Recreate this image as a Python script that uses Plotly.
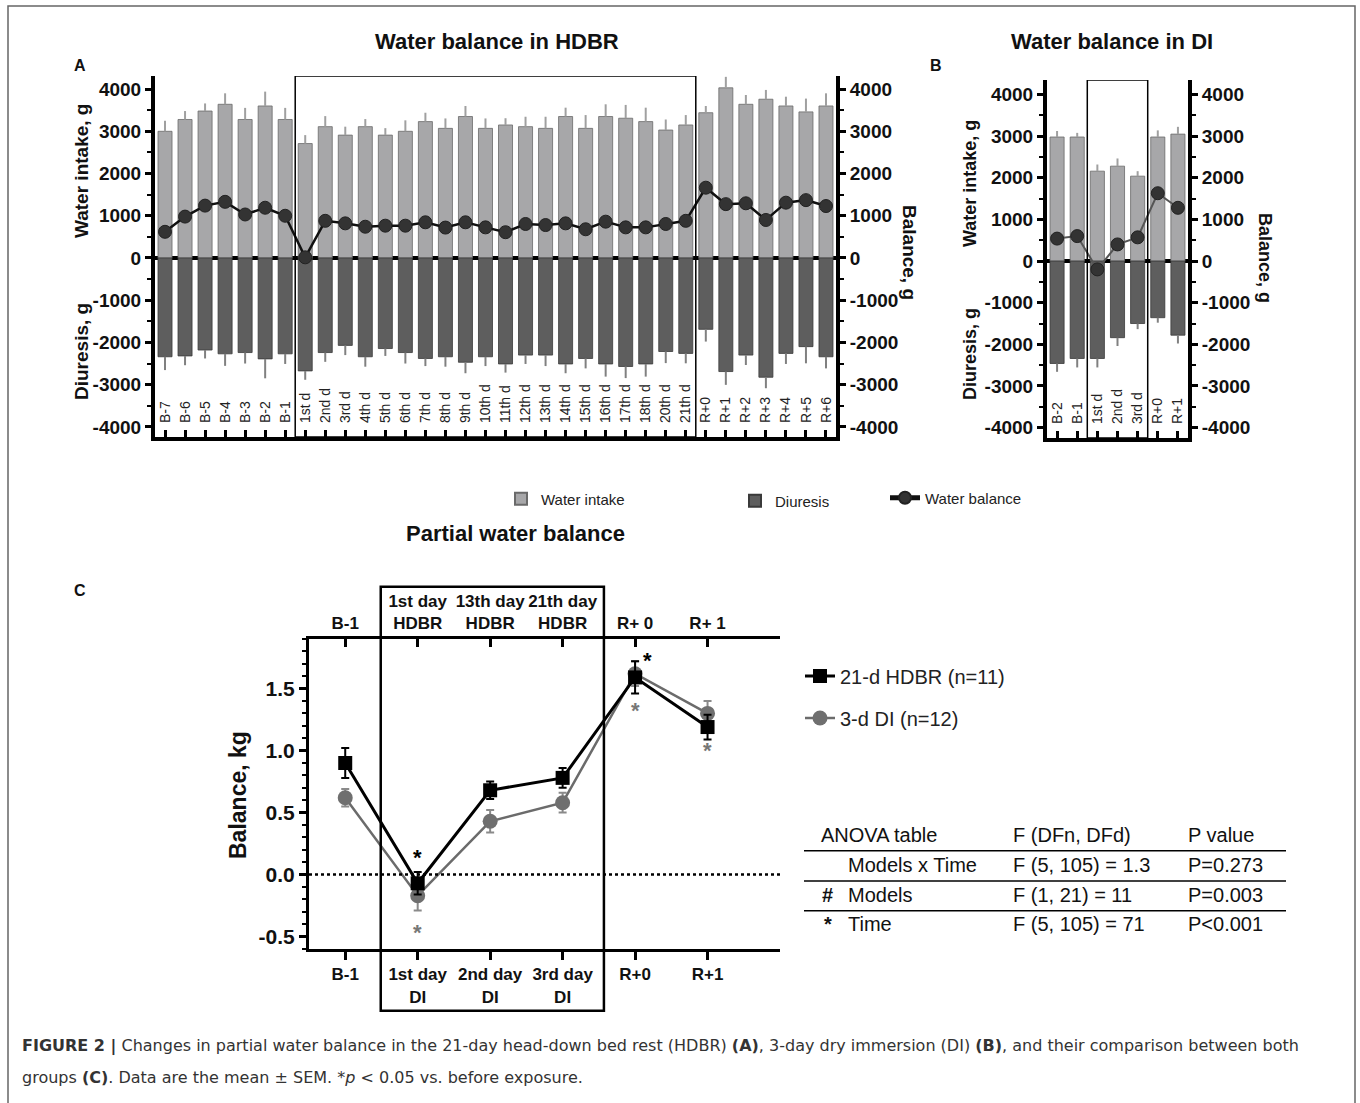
import plotly.graph_objects as go

W, H = 1360, 1103
def X(px): return px / W
def Y(py): return 1 - py / H

# ---------------- DATA ----------------
cats_A = ["B-7", "B-6", "B-5", "B-4", "B-3", "B-2", "B-1",
          "1st d", "2nd d", "3rd d", "4th d", "5th d", "6th d", "7th d", "8th d", "9th d",
          "10th d", "11th d", "12th d", "13th d", "14th d", "15th d", "16th d", "17th d",
          "18th d", "20th d", "21th d",
          "R+0", "R+1", "R+2", "R+3", "R+4", "R+5", "R+6"]
intake_A = [3000, 3280, 3480, 3640, 3280, 3600, 3280,
            2710, 3110, 2910, 3110, 2910, 3000, 3230, 3070, 3350, 3070, 3150, 3110, 3070,
            3350, 3070, 3350, 3310, 3230, 3030, 3150,
            3440, 4030, 3640, 3760, 3600, 3460, 3600]
intake_A_sem = [250, 200, 180, 260, 275, 340, 275,
                200, 250, 200, 180, 165, 260, 210, 235, 250, 235, 160, 235, 275,
                210, 315, 290, 315, 330, 250, 235,
                160, 260, 220, 220, 220, 315, 300]
diuresis_A = [-2340, -2320, -2180, -2270, -2240, -2390, -2270,
              -2675, -2240, -2070, -2340, -2145, -2240, -2380, -2340, -2470, -2340, -2510,
              -2300, -2300, -2510, -2380, -2510, -2570, -2510, -2215, -2260,
              -1690, -2690, -2300, -2825, -2260, -2100, -2340]
diuresis_A_sem = [315, 220, 200, 285, 260, 460, 240,
                  210, 220, 230, 235, 175, 260, 180, 235, 260, 220, 205, 210, 260,
                  220, 235, 300, 275, 300, 275, 235,
                  290, 315, 235, 260, 250, 395, 275]
balance_A = [620, 980, 1240, 1330, 1030, 1190, 1000,
             15, 880, 820, 740, 765, 765, 845, 720, 845, 725, 610, 805, 780,
             820, 680, 860, 725, 725, 805, 880,
             1665, 1275, 1295, 900, 1310, 1370, 1230]

cats_B = ["B-2", "B-1", "1st d", "2nd d", "3rd d", "R+0", "R+1"]
intake_B = [2980, 2980, 2160, 2280, 2040, 2980, 3050]
intake_B_sem = [145, 100, 160, 185, 120, 160, 175]
diuresis_B = [-2460, -2340, -2340, -1840, -1500, -1360, -1780]
diuresis_B_sem = [200, 215, 215, 200, 135, 120, 200]
balance_B = [540, 600, -200, 400, 570, 1630, 1280]

ticks_g = [-4000, -3000, -2000, -1000, 0, 1000, 2000, 3000, 4000]
ticks_g_text = ["-4000", "-3000", "-2000", "-1000", "0", "1000", "2000", "3000", "4000"]

cats_C = ["B-1", "1st day<br>DI", "2nd day<br>DI", "3rd day<br>DI", "R+0", "R+1"]
top_C = ["B-1", "1st day<br>HDBR", "13th day<br>HDBR", "21th day<br>HDBR", "R+ 0", "R+ 1"]
hdbr_C = [0.90, -0.07, 0.68, 0.78, 1.59, 1.19]
hdbr_C_sem = [0.12, 0.09, 0.07, 0.08, 0.13, 0.10]
di_C = [0.62, -0.17, 0.43, 0.58, 1.62, 1.30]
di_C_sem = [0.07, 0.12, 0.09, 0.08, 0.10, 0.10]
ticks_kg = [-0.5, 0.0, 0.5, 1.0, 1.5]
ticks_kg_text = ["-0.5", "0.0", "0.5", "1.0", "1.5"]

names_A = ["Water intake", "Diuresis", "Water balance"]
names_C = ["21-d HDBR (n=11)", "3-d DI (n=12)"]

anova_header = ["ANOVA table", "F (DFn, DFd)", "P value"]
anova_marks = ["", "#", "*"]
anova_effect = ["Models x Time", "Models", "Time"]
anova_F = ["F (5, 105) = 1.3", "F (1, 21) = 11", "F (5, 105) = 71"]
anova_P = ["P=0.273", "P=0.003", "P<0.001"]

caption_1 = ("<b>FIGURE 2 |</b> Changes in partial water balance in the 21-day head-down bed rest (HDBR) "
             "<b>(A)</b>, 3-day dry immersion (DI) <b>(B)</b>, and their comparison between both")
caption_2 = "groups <b>(C)</b>. Data are the mean ± SEM. *<i>p</i> &lt; 0.05 vs. before exposure."

# ---------------- STYLE ----------------
FONT = "Liberation Sans, Arial, sans-serif"
NARROW = "Liberation Sans Narrow, Liberation Sans, Arial, sans-serif"
INTAKE_C = "#a7a7a9"
DIUR_C = "#5e5e5e"
RNG_A = [-4240, 4310]
RNG_B = [-4250, 4350]
DOM_AX = [X(155), X(836)]
DOM_AY = [Y(437), Y(76)]
DOM_BX = [X(1047), X(1188)]
DOM_BY = [Y(438), Y(80)]

fig = go.Figure()

# ---- Panel A ----
fig.add_trace(go.Bar(x=cats_A, y=intake_A, name=names_A[0], xaxis="x", yaxis="y",
                     marker=dict(color=INTAKE_C, line=dict(color="#6a6a6a", width=0.8)), width=0.7,
                     error_y=dict(type="data", symmetric=False, array=intake_A_sem,
                                  arrayminus=[0] * len(intake_A), color="#a0a0a0", thickness=2, width=0),
                     legend="legend"))
fig.add_trace(go.Bar(x=cats_A, y=diuresis_A, name=names_A[1], xaxis="x", yaxis="y",
                     marker=dict(color=DIUR_C, line=dict(color="#3a3a3a", width=0.8)), width=0.7,
                     error_y=dict(type="data", symmetric=False, array=[0] * len(diuresis_A),
                                  arrayminus=diuresis_A_sem, color="#808080", thickness=2, width=0),
                     legend="legend2"))
fig.add_trace(go.Scatter(x=cats_A, y=balance_A, name=names_A[2], xaxis="x", yaxis="y2",
                         mode="lines+markers", line=dict(color="#111", width=2.5),
                         marker=dict(symbol="circle", size=13, color="#333", line=dict(color="#222", width=1)),
                         legend="legend3"))
# helper subplot carrying the category labels of A (inside, rotated)
fig.add_trace(go.Scatter(x=cats_A, y=balance_A, xaxis="x5", yaxis="y7", mode="markers",
                         marker=dict(opacity=0), showlegend=False, hoverinfo="skip"))

# ---- Panel B ----
fig.add_trace(go.Bar(x=cats_B, y=intake_B, xaxis="x2", yaxis="y3", showlegend=False,
                     marker=dict(color=INTAKE_C, line=dict(color="#6a6a6a", width=0.8)), width=0.7,
                     error_y=dict(type="data", symmetric=False, array=intake_B_sem,
                                  arrayminus=[0] * len(intake_B), color="#a0a0a0", thickness=2, width=0)))
fig.add_trace(go.Bar(x=cats_B, y=diuresis_B, xaxis="x2", yaxis="y3", showlegend=False,
                     marker=dict(color=DIUR_C, line=dict(color="#3a3a3a", width=0.8)), width=0.7,
                     error_y=dict(type="data", symmetric=False, array=[0] * len(diuresis_B),
                                  arrayminus=diuresis_B_sem, color="#808080", thickness=2, width=0)))
fig.add_trace(go.Scatter(x=cats_B, y=balance_B, xaxis="x2", yaxis="y4", showlegend=False,
                         mode="lines+markers", line=dict(color="#555", width=2),
                         marker=dict(symbol="circle", size=13, color="#333", line=dict(color="#222", width=1))))
fig.add_trace(go.Scatter(x=cats_B, y=balance_B, xaxis="x6", yaxis="y8", mode="markers",
                         marker=dict(opacity=0), showlegend=False, hoverinfo="skip"))

# ---- Panel C ----
fig.add_trace(go.Scatter(x=cats_C, y=di_C, name=names_C[1], xaxis="x3", yaxis="y5",
                         mode="lines+markers", line=dict(color="#6b6b6b", width=2.5),
                         marker=dict(symbol="circle", size=15, color="#6f6f6f"),
                         error_y=dict(type="data", array=di_C_sem, color="#8a8a8a", thickness=2, width=4),
                         legend="legend5"))
fig.add_trace(go.Scatter(x=cats_C, y=hdbr_C, name=names_C[0], xaxis="x3", yaxis="y5",
                         mode="lines+markers", line=dict(color="#000", width=3),
                         marker=dict(symbol="square", size=14, color="#000"),
                         error_y=dict(type="data", array=hdbr_C_sem, color="#000", thickness=2, width=4),
                         legend="legend4"))
# invisible helper to carry categories on the top axis
fig.add_trace(go.Scatter(x=cats_C, y=hdbr_C, xaxis="x4", yaxis="y5", mode="markers",
                         marker=dict(opacity=0), showlegend=False, hoverinfo="skip"))

tick_bold_A = dict(family=FONT, size=19, color="#111", weight="bold")
common_y = dict(showgrid=False, zeroline=True, zerolinewidth=4, zerolinecolor="#000",
                showline=True, linewidth=4, linecolor="#000",
                tickmode="array", tickvals=ticks_g, ticktext=ticks_g_text,
                ticks="outside", ticklen=6, tickwidth=3,
                tickcolor="#000", tickfont=tick_bold_A,
                minor=dict(tick0=0, dtick=500, ticks="outside", ticklen=4, tickwidth=2, tickcolor="#000"))
# main x axes: line + inside ticks, no labels
common_x = dict(type="category", showgrid=False, showline=True, linewidth=4, linecolor="#000",
                ticks="inside", ticklen=7, tickwidth=3, tickcolor="#000", showticklabels=False)
# label x axes (separate helper subplot so y tick labels are not hidden)
label_x = dict(type="category", showgrid=False, showline=False, zeroline=False, ticks="",
               tickangle=-90, ticklabelposition="inside", ticklabelstandoff=6,
               tickfont=dict(family=FONT, size=14, color="#222"))
hidden_y = dict(visible=False, showgrid=False, zeroline=False)
leg_font = dict(family=NARROW, size=15, color="#222")

fig.update_layout(
    width=W, height=H, margin=dict(l=0, r=0, t=0, b=0),
    paper_bgcolor="white", plot_bgcolor="rgba(0,0,0,0)",
    barmode="relative", font=dict(family=FONT, color="#111"),
    xaxis=dict(common_x, domain=DOM_AX, range=[-0.5, 33.5], anchor="y"),
    yaxis=dict(common_y, domain=DOM_AY, range=RNG_A, anchor="x"),
    yaxis2=dict(common_y, range=RNG_A, overlaying="y", side="right", anchor="x"),
    xaxis5=dict(label_x, domain=DOM_AX, range=[-0.5, 33.5], anchor="y7"),
    yaxis7=dict(hidden_y, domain=DOM_AY, range=RNG_A, anchor="x5"),
    xaxis2=dict(common_x, domain=DOM_BX, range=[-0.5, 6.5], anchor="y3"),
    yaxis3=dict(common_y, domain=DOM_BY, range=RNG_B, anchor="x2"),
    yaxis4=dict(common_y, range=RNG_B, overlaying="y3", side="right", anchor="x2"),
    xaxis6=dict(label_x, domain=DOM_BX, range=[-0.5, 6.5], anchor="y8"),
    yaxis8=dict(hidden_y, domain=DOM_BY, range=RNG_B, anchor="x6"),
    xaxis3=dict(type="category", domain=[X(309), X(780)], range=[-0.5, 6.0], anchor="y5",
                showgrid=False, showline=True, linewidth=3, linecolor="#000",
                ticks="outside", ticklen=8, tickwidth=3, tickcolor="#000",
                tickfont=dict(family=FONT, size=17, color="#111", weight="bold")),
    xaxis4=dict(type="category", range=[-0.5, 6.0], overlaying="x3", side="top", anchor="y5",
                showgrid=False, showline=True, linewidth=3, linecolor="#000",
                ticks="inside", ticklen=8, tickwidth=3, tickcolor="#000",
                tickmode="array", tickvals=cats_C, ticktext=top_C,
                tickfont=dict(family=FONT, size=17, color="#111", weight="bold")),
    yaxis5=dict(domain=[Y(949), Y(639)], range=[-0.6, 1.9], anchor="x3", showgrid=False, zeroline=False,
                showline=True, linewidth=3, linecolor="#000",
                tickmode="array", tickvals=ticks_kg, ticktext=ticks_kg_text,
                ticks="outside", ticklen=7, tickwidth=3, tickcolor="#000",
                tickfont=dict(family=FONT, size=21, color="#111", weight="bold"),
                minor=dict(tick0=0, dtick=0.1, ticks="outside", ticklen=4, tickwidth=2, tickcolor="#000")),
    legend=dict(x=X(501), y=Y(499), xanchor="left", yanchor="middle", bgcolor="rgba(0,0,0,0)",
                font=leg_font, itemsizing="constant"),
    legend2=dict(x=X(735), y=Y(501), xanchor="left", yanchor="middle", bgcolor="rgba(0,0,0,0)",
                 font=leg_font, itemsizing="constant"),
    legend3=dict(x=X(885), y=Y(498), xanchor="left", yanchor="middle", bgcolor="rgba(0,0,0,0)",
                 font=leg_font, itemsizing="constant"),
    legend4=dict(x=X(800), y=Y(676), xanchor="left", yanchor="middle", bgcolor="rgba(0,0,0,0)",
                 font=dict(family=FONT, size=20, color="#222")),
    legend5=dict(x=X(800), y=Y(718), xanchor="left", yanchor="middle", bgcolor="rgba(0,0,0,0)",
                 font=dict(family=FONT, size=20, color="#222")),
)

shapes = []
# figure frame
shapes.append(dict(type="rect", xref="paper", yref="paper", x0=X(8), x1=X(1355), y0=-0.01, y1=Y(6),
                   line=dict(color="#666", width=1.5)))
# exposure boxes
shapes.append(dict(type="rect", xref="x", yref="y", x0=6.5, x1=26.5, y0=RNG_A[0], y1=RNG_A[1],
                   line=dict(color="#000", width=1.5)))
shapes.append(dict(type="rect", xref="x2", yref="y3", x0=1.5, x1=4.5, y0=RNG_B[0], y1=RNG_B[1],
                   line=dict(color="#000", width=1.5)))
shapes.append(dict(type="rect", xref="x3", yref="paper", x0=0.49, x1=3.57, y0=Y(1010.7), y1=Y(586.7),
                   line=dict(color="#000", width=2.5)))
# dotted zero line in C
shapes.append(dict(type="line", xref="x3 domain", yref="y5", x0=0, x1=1, y0=0, y1=0,
                   line=dict(color="#000", width=2.5, dash="dot")))
# ANOVA table rules
for py in [850.7, 881, 910.7]:
    shapes.append(dict(type="line", xref="paper", yref="paper", x0=X(804), x1=X(1286), y0=Y(py), y1=Y(py),
                       line=dict(color="#000", width=1.5)))

ann = []
def txt(x, y, t, size, bold=False, xanchor="center", yanchor="middle", angle=0, color="#111", family=FONT,
        xref="paper", yref="paper", xshift=0):
    ann.append(dict(x=x, y=y, text=t, xref=xref, yref=yref, showarrow=False, xanchor=xanchor,
                    yanchor=yanchor, textangle=angle, xshift=xshift,
                    font=dict(family=family, size=size, color=color, weight="bold" if bold else "normal")))

# titles
txt(X(497), Y(42), "Water balance in HDBR", 22, bold=True)
txt(X(1112), Y(42), "Water balance in DI", 22, bold=True)
txt(X(515), Y(533), "Partial water balance", 22, bold=True)
txt(X(80), Y(65), "A", 16, bold=True)
txt(X(936), Y(65), "B", 16, bold=True)
txt(X(80), Y(590), "C", 16, bold=True)
# axis titles
txt(X(81), Y(171), "Water intake, g", 19, bold=True, angle=-90)
txt(X(81), Y(352), "Diuresis, g", 19, bold=True, angle=-90)
txt(X(909), Y(253), "Balance, g", 19, bold=True, angle=90)
txt(X(970), Y(184), "Water intake, g", 18, bold=True, angle=-90)
txt(X(970), Y(354), "Diuresis, g", 18, bold=True, angle=-90)
txt(X(1265), Y(258), "Balance, g", 18, bold=True, angle=90)
txt(X(238), Y(795), "Balance, kg", 23, bold=True, angle=-90)
# significance marks in C
txt(1, 0.14, "*", 22, bold=True, xref="x3", yref="y5", color="#000")
txt(4, 1.73, "*", 22, bold=True, xref="x3", yref="y5", color="#000", xshift=12)
txt(1, -0.47, "*", 22, bold=True, xref="x3", yref="y5", color="#777")
txt(4, 1.32, "*", 22, bold=True, xref="x3", yref="y5", color="#777")
txt(5, 1.00, "*", 22, bold=True, xref="x3", yref="y5", color="#777")
# ANOVA table text
txt(X(819), Y(835), anova_header[0], 20, xanchor="left")
txt(X(1011), Y(835), anova_header[1], 20, xanchor="left")
txt(X(1186), Y(835), anova_header[2], 20, xanchor="left")
row_y = [865, 895, 924]
for i in range(3):
    if anova_marks[i]:
        txt(X(828), Y(row_y[i]), anova_marks[i], 20, bold=True, xanchor="center")
    txt(X(846), Y(row_y[i]), anova_effect[i], 20, xanchor="left")
    txt(X(1011), Y(row_y[i]), anova_F[i], 20, xanchor="left")
    txt(X(1186), Y(row_y[i]), anova_P[i], 20, xanchor="left")
# caption
txt(X(20), Y(1046), caption_1, 16, xanchor="left", color="#333", family="DejaVu Sans, sans-serif")
txt(X(20), Y(1077), caption_2, 16, xanchor="left", color="#333", family="DejaVu Sans, sans-serif")

fig.update_layout(shapes=shapes, annotations=ann)
fig.write_html("out.html")
